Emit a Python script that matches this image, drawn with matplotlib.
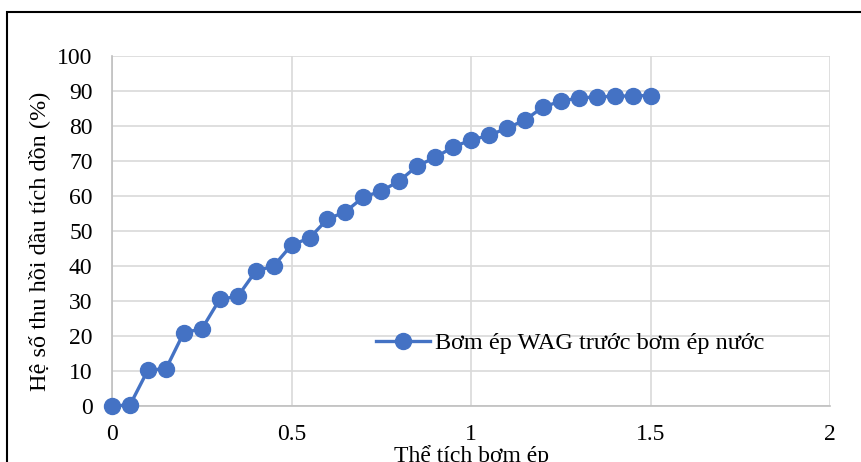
import matplotlib.pyplot as plt
import matplotlib.patches as patches

plt.rcParams['font.family'] = ['Liberation Serif', 'DejaVu Serif']

pv = [0, 0.05, 0.1, 0.15, 0.2, 0.25, 0.3, 0.35, 0.4, 0.45, 0.5, 0.55, 0.6, 0.65,
      0.7, 0.75, 0.8, 0.85, 0.9, 0.95, 1.0, 1.05, 1.1, 1.15, 1.2, 1.25, 1.3,
      1.35, 1.4, 1.45, 1.5]
recovery = [0, 0.3, 10.3, 10.6, 21, 22, 30.5, 31.3, 38.5, 40, 46, 48, 53.4, 55.5,
            59.7, 61.4, 64.3, 68.6, 71, 74, 76, 77.3, 79.4, 81.7, 85.4, 87.1, 88,
            88.3, 88.5, 88.6, 88.7]
series_name = 'Bơm ép WAG trước bơm ép nước'

fig = plt.figure(figsize=(8.62, 4.62), dpi=100)
ax = fig.add_axes([0.13, 0.1212, 0.833, 0.7576])

ax.plot(pv, recovery, color='#4472C4', lw=2.4, marker='o', ms=11.5,
        label=series_name, clip_on=False, zorder=3)

ax.set_xlim(0, 2)
ax.set_ylim(0, 100)
ax.set_xticks([0, 0.5, 1, 1.5, 2])
ax.set_xticklabels(['0', '0.5', '1', '1.5', '2'])
ax.set_yticks(range(0, 101, 10))
ax.grid(True, color='#d9d9d9', lw=1.2)
ax.set_axisbelow(True)
for s in ['top', 'right']:
    ax.spines[s].set_visible(False)
for s in ['left', 'bottom']:
    ax.spines[s].set_color('#bfbfbf')
    ax.spines[s].set_linewidth(1.2)
ax.tick_params(length=0, labelsize=17)
ax.tick_params(axis='y', pad=14)
ax.tick_params(axis='x', pad=13)

ax.set_xlabel('Thể tích bơm ép', fontsize=17)
ax.xaxis.set_label_coords(0.5, -0.112)
ax.set_ylabel('Hệ số thu hồi dầu tích dồn (%)', fontsize=17.5)
ax.yaxis.set_label_coords(-0.087, 0.47)

ax.legend(loc='center left', bbox_to_anchor=(0.368, 0.18), frameon=False,
          fontsize=17.5, handlelength=2.2, handletextpad=0.2,
          borderpad=0, borderaxespad=0)

fig.patches.append(patches.Rectangle((7 / 862, -0.05), 1.0, 1 - 12 / 462 + 0.05,
                                     transform=fig.transFigure, fill=False,
                                     edgecolor='black', lw=1.5))

fig.savefig('out.png', dpi=100)
